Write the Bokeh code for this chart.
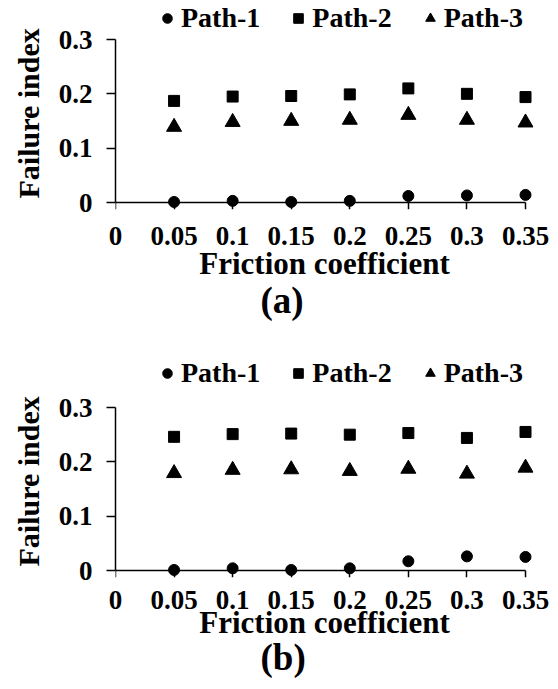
from bokeh.plotting import figure
from bokeh.models import (Range1d, FixedTicker, PrintfTickFormatter, Legend,
                          LegendItem, Title, LinearAxis, ColumnDataSource)
from bokeh.layouts import column
from bokeh.embed import file_html
from bokeh.resources import INLINE

# ---------------- data ----------------
friction = [0.05, 0.10, 0.15, 0.20, 0.25, 0.30, 0.35]
x_ticks = [0, 0.05, 0.1, 0.15, 0.2, 0.25, 0.3, 0.35]
y_ticks = [0, 0.1, 0.2, 0.3]
series_names = ["Path-1", "Path-2", "Path-3"]

a_path1 = [0.001, 0.003, 0.001, 0.003, 0.012, 0.013, 0.014]
a_path2 = [0.187, 0.195, 0.196, 0.199, 0.210, 0.200, 0.194]
a_path3 = [0.139, 0.148, 0.150, 0.152, 0.161, 0.152, 0.147]

b_path1 = [0.001, 0.004, 0.001, 0.004, 0.017, 0.026, 0.025]
b_path2 = [0.246, 0.251, 0.252, 0.250, 0.253, 0.244, 0.255]
b_path3 = [0.179, 0.185, 0.186, 0.183, 0.187, 0.178, 0.189]

x_title = "Friction coefficient"
y_title = "Failure index"

# ---------------- layout constants ----------------
FONT = "Liberation Serif"
W = 558
FL = 113            # frame left
FW = 418            # frame width
AXIS_W = 410        # pixels from 0 to 0.35
X_END = 0.35 * FW / AXIS_W
PXU = 163 / 0.3     # pixels per unit on y
GAP_BELOW = 7       # frame extends this far below y = 0


def style_text_axis(ax):
    ax.formatter = PrintfTickFormatter(format="%g")
    ax.major_label_text_font = FONT
    ax.major_label_text_font_size = "27px"
    ax.major_label_text_font_style = "bold"
    ax.major_label_text_color = "black"
    ax.axis_label_text_font = FONT
    ax.axis_label_text_font_size = "31px"
    ax.axis_label_text_font_style = "bold"
    ax.axis_label_text_color = "black"
    ax.minor_tick_line_color = None


def make_panel(p1, p2, p3, tag, height, space_above, legend_vy,
               tick_standoff, label_standoff, tag_standoff):
    # frame spans from the very top of the figure down to just below y=0
    fh = space_above + 163 + GAP_BELOW
    y_end = 0.3 + space_above / PXU
    y_start = -GAP_BELOW / PXU
    p = figure(width=W, height=height,
               frame_width=FW, frame_height=fh,
               min_border_left=FL, min_border_right=W - FL - FW,
               min_border_top=0, min_border_bottom=height - fh,
               x_range=Range1d(0, X_END), y_range=Range1d(y_start, y_end),
               output_backend="svg", toolbar_location=None, tools="")
    p.xgrid.visible = False
    p.ygrid.visible = False
    p.outline_line_color = None
    p.background_fill_color = "white"
    p.border_fill_color = "white"

    src = ColumnDataSource(dict(x=friction, p1=p1, p2=p2, p3=p3))
    r1 = p.scatter("x", "p1", source=src, marker="circle", size=11,
                   fill_color="black", line_color="black")
    r2 = p.scatter("x", "p2", source=src, marker="square", size=11,
                   fill_color="black", line_color="black")
    r3 = p.scatter("x", "p3", source=src, marker="triangle", size=15,
                   fill_color="black", line_color="black")

    # x axis line + ticks, sitting at y = 0
    xa = p.xaxis[0]
    style_text_axis(xa)
    xa.fixed_location = 0
    xa.bounds = (0, 0.35)
    xa.ticker = FixedTicker(ticks=x_ticks)
    xa.axis_line_color = "black"
    xa.axis_line_width = 1.5
    xa.major_tick_line_color = "black"
    xa.major_tick_line_width = 1.5
    xa.major_tick_in = 0
    xa.major_tick_out = 7
    xa.major_label_text_font_size = "1px"
    xa.major_label_text_alpha = 0
    xa.major_label_standoff = 0

    # x tick labels and title
    xl = LinearAxis(ticker=FixedTicker(ticks=x_ticks), bounds=(0, 0.35),
                    axis_label=x_title)
    style_text_axis(xl)
    xl.axis_line_color = None
    xl.major_tick_line_color = None
    xl.major_tick_in = 0
    xl.major_tick_out = 0
    xl.major_label_standoff = tick_standoff
    xl.axis_label_standoff = label_standoff
    p.add_layout(xl, "below")

    ya = p.yaxis[0]
    style_text_axis(ya)
    ya.bounds = (0, 0.3)
    ya.ticker = FixedTicker(ticks=y_ticks)
    ya.axis_line_color = "black"
    ya.axis_line_width = 1.5
    ya.major_tick_line_color = "black"
    ya.major_tick_line_width = 1.5
    ya.major_tick_in = 0
    ya.major_tick_out = 9
    ya.major_label_standoff = 14

    # y title, placed along the 0..0.3 part of the axis
    p.add_layout(Title(text=y_title, align="left", offset=11,
                       vertical_align="middle", standoff=20,
                       text_font=FONT, text_font_size="30px",
                       text_font_style="bold", text_color="black"), "left")

    legend = Legend(
        items=[LegendItem(label=n, renderers=[r])
               for n, r in zip(series_names, [r1, r2, r3])],
        location=(40, legend_vy), orientation="horizontal",
        glyph_width=24, glyph_height=24, label_standoff=2, spacing=26,
        padding=0, margin=0, border_line_color=None,
        background_fill_alpha=0,
        label_text_font=FONT, label_text_font_size="28px",
        label_text_font_style="bold", label_text_color="black")
    p.add_layout(legend)

    p.add_layout(Title(text=tag, align="left", offset=145,
                       vertical_align="top", standoff=tag_standoff,
                       text_font=FONT, text_font_size="37px",
                       text_font_style="bold", text_color="black"), "below")
    return p


pa = make_panel(a_path1, a_path2, a_path3, "(a)", 345, 39, 175, 17, -2, -8)
pb = make_panel(b_path1, b_path2, b_path3, "(b)", 344, 62, 188, 13, -7, -12)

layout = column(pa, pb, spacing=0)
open("out.html", "w").write(file_html(layout, INLINE))
